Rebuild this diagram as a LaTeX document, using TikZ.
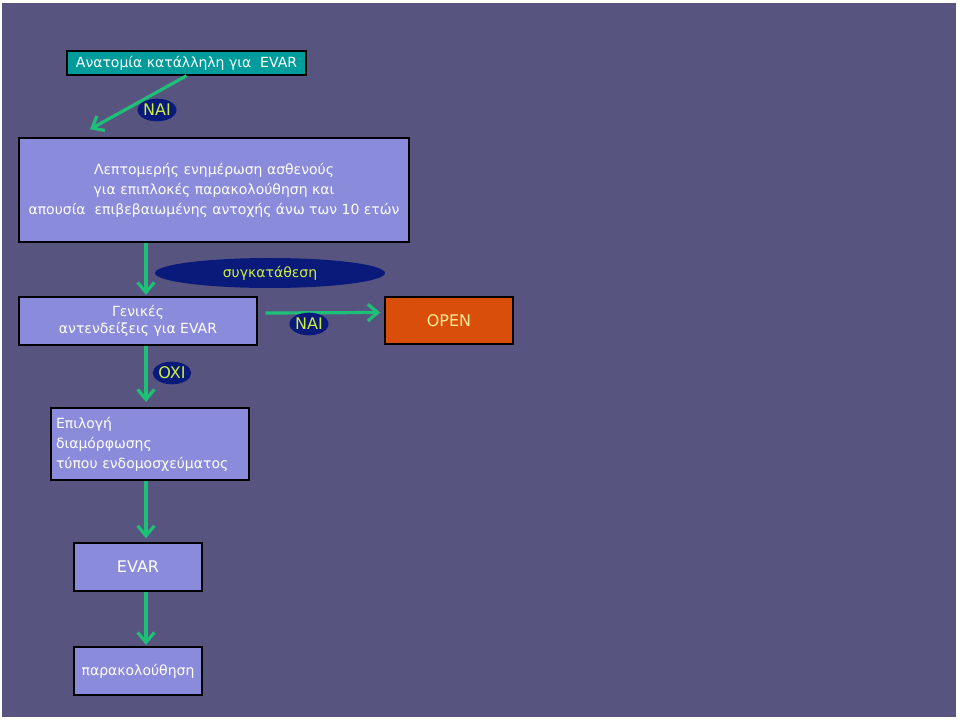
\documentclass[tikz,border=0pt]{standalone}
\usepackage{fontspec}
\setmainfont{DejaVu Sans}
\usetikzlibrary{arrows.meta,shapes.geometric}

\definecolor{slidebg}{HTML}{575580}
\definecolor{boxblue}{HTML}{8B8BDB}
\definecolor{boxteal}{HTML}{009B9B}
\definecolor{boxorange}{HTML}{D94E0A}
\definecolor{ovalnavy}{HTML}{0A1A7A}
\definecolor{ovaltext}{HTML}{CCEE44}
\definecolor{flowgreen}{HTML}{1EC078}
\definecolor{opentext}{HTML}{FFEE99}

\tikzset{
  box/.style={draw=black, line width=1.1pt, fill=boxblue, text=white, inner sep=0pt,
    align=center, font=\fontsize{10.5}{15}\selectfont},
  oval/.style={ellipse, fill=ovalnavy, text=ovaltext, inner sep=0pt,
    font=\fontsize{10.5}{12}\selectfont},
  caps/.style={font=\fontsize{12}{14}\selectfont},
  flow/.style={draw=flowgreen, line width=2.4pt, -{Straight Barb[length=7.5pt,width=12.5pt]}}
}

\begin{document}
\begin{tikzpicture}[x=0.75pt, y=-0.75pt]
		\useasboundingbox[fill=white] (0,0) rectangle (960,723);
		\fill[slidebg] (2,3) rectangle (956,717);
		% boxes
		\node[box, fill=boxteal, minimum width=179.25pt, minimum height=18pt] (anat) at (186.5,63) {Ανατομία κατάλληλη για\ \ EVAR};
		\node[box, minimum width=292.5pt, minimum height=78pt] (info) at (214,190) {Λεπτομερής ενημέρωση ασθενούς\\για επιπλοκές παρακολούθηση και\\απουσία\ \ επιβεβαιωμένης αντοχής άνω των 10 ετών};
		\node[box, minimum width=178.5pt, minimum height=36pt, font=\fontsize{10.5}{13}\selectfont] (gen) at (138,321) {Γενικές\\αντενδείξεις για EVAR};
		\node[box, caps, fill=boxorange, text=opentext, minimum width=96pt, minimum height=35.25pt] (open) at (449,320.5) {OPEN};
		\node[box, align=left, text width=141pt, minimum width=148.5pt, minimum height=54pt] (sel) at (150,444) {Επιλογή\\διαμόρφωσης\\τύπου ενδομοσχεύματος};
		\node[box, caps, minimum width=96pt, minimum height=36pt] (evar) at (138,567) {EVAR};
		\node[box, minimum width=96pt, minimum height=36pt] (para) at (138,671) {παρακολούθηση};
		% arrows
		\draw[flow] (anat.south) -- ([xshift=-93pt, yshift=6pt]info.north);
		\draw[flow] (info.south -| 146,0) -- ([yshift=1pt]gen.north -| 146,0);
		\draw[flow] ([shift={(6pt,6pt)}]gen.east) -- ([shift={(-3pt,6pt)}]open.west);
		\draw[flow] (gen.south -| 146,0) -- ([yshift=4pt]sel.north -| 146,0);
		\draw[flow] (sel.south -| 146,0) -- ([yshift=3pt]evar.north -| 146,0);
		\draw[flow] (evar.south -| 146,0) -- ([yshift=1pt]para.north -| 146,0);
		% labels
		\node[oval, caps, minimum width=28.5pt, minimum height=17pt] (yes1) at (157,110) {NAI};
		\node[oval, minimum width=172.5pt, minimum height=22.5pt] (consent) at (270,273) {συγκατάθεση};
		\node[oval, caps, minimum width=28.5pt, minimum height=17pt] (yes2) at (309,324) {NAI};
		\node[oval, caps, minimum width=28.5pt, minimum height=17pt] (no) at (172,373) {OXI};
\end{tikzpicture}
\end{document}
